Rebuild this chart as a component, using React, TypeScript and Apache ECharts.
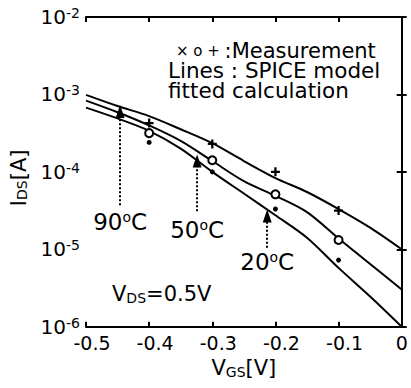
import React, { useEffect, useRef } from 'react';
import * as echarts from 'echarts';

// V_GS sample points for the fitted SPICE curves
const vgs = [-0.5, -0.45, -0.4, -0.35, -0.3, -0.25, -0.2, -0.15, -0.1, -0.05, 0];
// log10(I_DS) of the fitted curves
const logI90 = [-3.006, -3.15, -3.28, -3.45, -3.63, -3.86, -4.08, -4.26, -4.48, -4.72, -5.0];
const logI50 = [-3.08, -3.23, -3.4, -3.6, -3.86, -4.12, -4.31, -4.52, -4.86, -5.19, -5.52];
const logI20 = [-3.17, -3.31, -3.47, -3.7, -4.0, -4.28, -4.56, -4.85, -5.24, -5.61, -6.0];

// measurements
const measV = [-0.4, -0.3, -0.2, -0.1];
const meas90 = [-3.37, -3.64, -4.0, -4.5];
const meas50 = [-3.5, -3.85, -4.29, -4.88];
const meas20 = [-3.62, -4.0, -4.48, -5.14];

// temperature arrows
const arrowTemps = ['90', '50', '20'];
const arrowV = [-0.446, -0.324, -0.213];
const arrowHeadLogI = [-3.22, -3.86, -4.57];
const arrowBaseLogI = [-4.43, -4.51, -4.98];
const arrowLabelLogI = [-4.645, -4.75, -5.16];

const xMin = -0.5;
const xMax = 0;
const xStep = 0.1;
const yMin = 1e-6;
const yMax = 1e-2;

const FONT = '"DejaVu Sans", "Liberation Sans", Arial, sans-serif';

const toPairs = (xs: number[], ls: number[]) => xs.map((x, i) => [x, Math.pow(10, ls[i])]);

const PLUS = 'path://M3,0H5V3H8V5H5V8H3V5H0V3H3Z';

export default function App() {
  const ref = useRef<HTMLDivElement>(null);
  useEffect(() => {
    if (!ref.current) return;
    const chart = echarts.init(ref.current, undefined, { renderer: 'svg' });
    const lineSeries = (name: string, ls: number[]) => ({
      name,
      type: 'line',
      data: toPairs(vgs, ls),
      smooth: 0.3,
      showSymbol: false,
      symbol: 'none',
      lineStyle: { color: '#000', width: 2 },
      z: 3,
    });
    const tickStyle = { inside: true, length: 5, lineStyle: { color: '#000', width: 2 } };
    const option: any = {
      animation: false,
      backgroundColor: '#fff',
      grid: { left: 86, right: 9.3, top: 17, bottom: 61.3, containLabel: false, outerBoundsMode: 'none' },
      xAxis: [
        {
          type: 'value',
          min: xMin,
          max: xMax,
          interval: xStep,
          position: 'bottom',
          name: 'V{sub|GS}[V]',
          nameLocation: 'middle',
          nameGap: 24,
          nameTextStyle: {
            color: '#000',
            fontFamily: FONT,
            fontSize: 21,
            rich: {
              sub: { fontSize: 14, fontFamily: FONT, color: '#000', verticalAlign: 'bottom', lineHeight: 14 },
            },
          },
          axisLine: { lineStyle: { color: '#000', width: 2 } },
          axisTick: tickStyle,
          splitLine: { show: false },
          axisLabel: {
            color: '#000',
            fontFamily: FONT,
            fontSize: 19,
            margin: 7,
            formatter: (v: number) => {
              const s = Math.abs(v) < 1e-9 ? '0' : v.toFixed(1);
              return s === '0' ? s : '{n|' + s + '}';
            },
            rich: {
              n: { fontSize: 19, fontFamily: FONT, color: '#000', padding: [0, 0, 0, 12] },
            },
          },
        },
        {
          type: 'value',
          min: xMin,
          max: xMax,
          interval: xStep,
          position: 'top',
          axisLine: { lineStyle: { color: '#000', width: 2 } },
          axisTick: tickStyle,
          axisLabel: { show: false },
          splitLine: { show: false },
        },
      ],
      yAxis: [
        {
          type: 'log',
          logBase: 10,
          min: yMin,
          max: yMax,
          position: 'left',
          name: 'I{sub|DS}[A]',
          nameLocation: 'middle',
          nameGap: 57,
          nameRotate: 90,
          nameTextStyle: {
            color: '#000',
            fontFamily: FONT,
            fontSize: 21,
            padding: [0, 12, 0, 0],
            rich: {
              sub: { fontSize: 14, fontFamily: FONT, color: '#000', verticalAlign: 'bottom', lineHeight: 14 },
            },
          },
          axisLine: { lineStyle: { color: '#000', width: 2 } },
          axisTick: tickStyle,
          splitLine: { show: false },
          minorTick: { show: false },
          axisLabel: {
            margin: 6,
            formatter: (v: number) => '{b|10}{s|' + Math.round(Math.log10(v)) + '}',
            rich: {
              b: { fontSize: 20, fontFamily: FONT, color: '#000', lineHeight: 22 },
              s: { fontSize: 14, fontFamily: FONT, color: '#000', verticalAlign: 'top', lineHeight: 14 },
            },
          },
        },
        {
          type: 'log',
          logBase: 10,
          min: yMin,
          max: yMax,
          position: 'right',
          axisLine: { lineStyle: { color: '#000', width: 2 } },
          axisTick: tickStyle,
          axisLabel: { show: false },
          splitLine: { show: false },
        },
      ],
      series: [
        lineSeries('90', logI90),
        lineSeries('50', logI50),
        {
          ...lineSeries('20', logI20),
          markLine: {
            silent: true,
            symbol: ['none', 'triangle'],
            symbolSize: [9, 13],
            lineStyle: { color: '#000', width: 2, type: 'dotted' },
            label: { show: false },
            emphasis: { disabled: true },
            data: arrowV.map((v, i) => [
              { coord: [v, Math.pow(10, arrowBaseLogI[i])] },
              { coord: [v, Math.pow(10, arrowHeadLogI[i])] },
            ]),
          },
        },
        {
          type: 'scatter',
          data: toPairs(measV, meas90),
          symbol: PLUS,
          symbolSize: 9,
          itemStyle: { color: '#000', opacity: 1 },
          z: 4,
        },
        {
          type: 'scatter',
          data: toPairs(measV, meas50),
          symbol: 'emptyCircle',
          symbolSize: 8,
          itemStyle: { color: '#000', borderColor: '#000', borderWidth: 2, opacity: 1 },
          z: 4,
        },
        {
          type: 'scatter',
          data: toPairs(measV, meas20),
          symbol: 'circle',
          symbolSize: 5,
          itemStyle: { color: '#000', opacity: 1 },
          z: 4,
        },
        {
          type: 'scatter',
          data: arrowV.map((v, i) => ({ value: [v, Math.pow(10, arrowLabelLogI[i])], name: arrowTemps[i] })),
          symbolSize: 0,
          silent: true,
          itemStyle: { color: '#000', opacity: 1 },
          label: {
            show: true,
            position: [0, 0],
            align: 'center',
            verticalAlign: 'middle',
            formatter: (p: any) => '{t|' + p.name + '}{o|o}{t|C}',
            color: '#000',
            textBorderWidth: 0,
            rich: {
              t: { fontSize: 23, fontFamily: FONT, color: '#000', lineHeight: 24, textBorderWidth: 0 },
              o: { fontSize: 14, fontFamily: FONT, color: '#000', verticalAlign: 'top', lineHeight: 14, textBorderWidth: 0 },
            },
          },
          z: 5,
        },
      ],
      graphic: [
        {
          type: 'text',
          x: 168,
          y: 40.5,
          style: {
            text:
              '{s|× o + }{m|:Measurement}\n{l|Lines : SPICE model}\n{l|fitted calculation}',
            fill: '#000',
            verticalAlign: 'top',
            rich: {
              s: { fontSize: 15, fontFamily: FONT, fill: '#000', lineHeight: 20, padding: [0, 0, 0, 8] },
              m: { fontSize: 21, fontFamily: FONT, fill: '#000', lineHeight: 20 },
              l: { fontSize: 21.5, fontFamily: FONT, fill: '#000', lineHeight: 20 },
            },
          },
        },
        {
          type: 'text',
          x: 112,
          y: 294,
          style: {
            text: '{v|V}{sub|DS}{v|=0.5V}',
            fill: '#000',
            verticalAlign: 'middle',
            rich: {
              v: { fontSize: 21, fontFamily: FONT, fill: '#000', lineHeight: 22 },
              sub: { fontSize: 14, fontFamily: FONT, fill: '#000', verticalAlign: 'bottom', lineHeight: 14 },
            },
          },
        },
      ],
    };
    chart.setOption(option);
    return () => chart.dispose();
  }, []);
  return (
    <div
      ref={ref}
      style={{ position: 'fixed', left: 0, top: 0, width: 411, height: 388, background: '#fff' }}
    />
  );
}
